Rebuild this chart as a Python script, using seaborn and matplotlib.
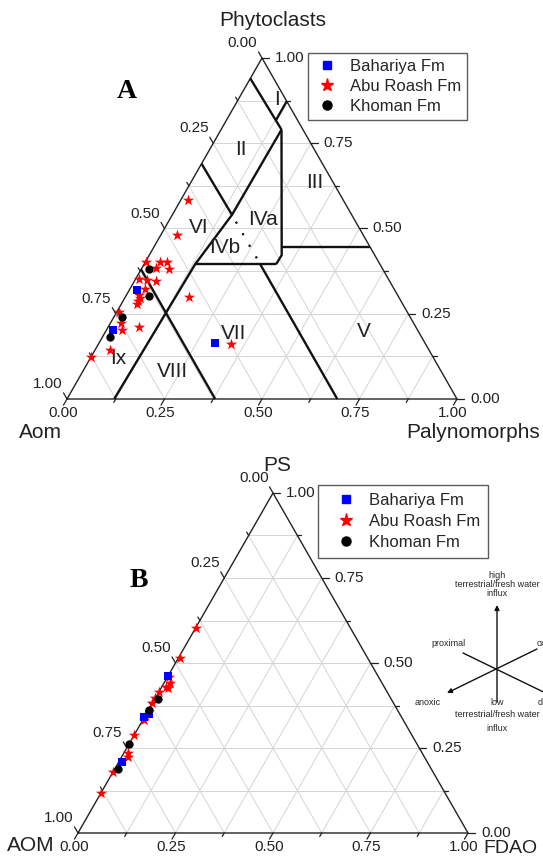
import numpy as np
import pandas as pd
import matplotlib
matplotlib.use("Agg")
import matplotlib.pyplot as plt
from matplotlib.lines import Line2D
import seaborn as sns

sns.set_theme(style="white")
plt.rcParams['font.family'] = ['Liberation Sans', 'DejaVu Sans']

# ---------------- data (fractions) ----------------
formations = ["Bahariya Fm", "Abu Roash Fm", "Khoman Fm"]

# Panel A : Aom - Phytoclasts - Palynomorphs
a_bah_phyto = [0.321, 0.202, 0.163]
a_bah_paly = [0.020, 0.018, 0.297]
a_abu_phyto = [0.584, 0.481, 0.403, 0.403, 0.403, 0.383, 0.381, 0.351, 0.350, 0.345, 0.322, 0.305,
               0.296, 0.287, 0.279, 0.300, 0.255, 0.223, 0.202, 0.212, 0.144, 0.122, 0.161]
a_abu_paly = [0.018, 0.042, 0.000, 0.038, 0.055, 0.036, 0.071, 0.010, 0.030, 0.055, 0.038, 0.031,
              0.038, 0.038, 0.040, 0.162, 0.005, 0.028, 0.040, 0.079, 0.038, 0.000, 0.341]
a_kho_phyto = [0.381, 0.301, 0.241, 0.182]
a_kho_paly = [0.020, 0.060, 0.020, 0.019]

# Panel B : AOM - PS - FDAO
b_bah_ps = [0.461, 0.350, 0.341, 0.209]
b_bah_fdao = [0.000, 0.008, 0.000, 0.008]
b_abu_ps = [0.604, 0.514, 0.460, 0.441, 0.426, 0.430, 0.416, 0.397, 0.382, 0.344, 0.332, 0.288,
            0.235, 0.224, 0.180, 0.119]
b_abu_fdao = [0.000, 0.005, 0.003, 0.015, 0.018, 0.011, 0.000, 0.000, 0.000, 0.000, 0.002, 0.000,
              0.010, 0.016, 0.000, 0.000]
b_kho_ps = [0.393, 0.362, 0.261, 0.187]
b_kho_fdao = [0.008, 0.000, 0.000, 0.010]

tick_values = [k / 8 for k in range(9)]

# Tyson APP field boundaries (phytoclasts, palynomorphs)
app_lines = [
    [(0.94, 0.0), (0.79, 0.155)],
    [(0.818, 0.127), (0.873, 0.127)],
    [(0.69, 0.0), (0.54, 0.153)],
    [(0.79, 0.155), (0.54, 0.153), (0.395, 0.131), (0.0, 0.121)],
    [(0.79, 0.155), (0.422, 0.3395), (0.395, 0.3385)],
    [(0.395, 0.3385), (0.395, 0.131)],
    [(0.447, 0.327), (0.447, 0.553)],
    [(0.395, 0.298), (0.0, 0.693)],
    [(0.38, 0.0), (0.0, 0.38)],
]
app_dotted = [(0.52, 0.173), (0.41, 0.283)]
field_labels = ["I", "II", "III", "IVa", "IVb", "VI", "V", "VII", "VIII", "Ix"]
field_phyto = [0.877, 0.732, 0.634, 0.525, 0.443, 0.502, 0.198, 0.193, 0.08, 0.119]
field_paly = [0.099, 0.079, 0.319, 0.241, 0.184, 0.086, 0.661, 0.331, 0.23, 0.071]

H = np.sqrt(3) / 2
PX = 1 / 390.0


def cart(top, right):
    top = np.asarray(top, float)
    right = np.asarray(right, float)
    return right + top / 2, top * H


def line(ax, pts, **kw):
    t = [p[0] for p in pts]
    r = [p[1] for p in pts]
    x, y = cart(t, r)
    ax.plot(x, y, clip_on=False, **kw)


def frame(ax, tsize=11):
    ax.set_xlim(0, 1)
    ax.set_ylim(0, H)
    ax.axis("off")
    for k in range(1, 8):
        v = k / 8
        kw = dict(color="#d4d4d4", lw=0.7, zorder=1)
        line(ax, [(v, 0), (v, 1 - v)], **kw)
        line(ax, [(0, v), (1 - v, v)], **kw)
        line(ax, [(1 - v, 0), (0, 1 - v)], **kw)
    line(ax, [(0, 0), (0, 1), (1, 0), (0, 0)], color="#222222", lw=1.0, zorder=3)
    for k, v in enumerate(tick_values):
        L = 7 * PX if k % 2 == 0 else 4 * PX
        x0, y0 = cart(1 - v, 0)
        ax.plot([x0, x0 - 0.5 * L], [y0, y0 + H * L], color="#222222", lw=0.9, clip_on=False)
        x1, y1 = cart(v, 1 - v)
        ax.plot([x1, x1 + L], [y1, y1], color="#222222", lw=0.9, clip_on=False)
        x2, y2 = cart(0, v)
        ax.plot([x2, x2 - 0.5 * L], [y2, y2 - H * L], color="#222222", lw=0.9, clip_on=False)
        if k % 2 == 0:
            lab = f"{v:.2f}"
            ax.text(x0 - 0.5 * 9 * PX, y0 + H * 9 * PX, lab, ha="right", va="bottom",
                    fontsize=tsize, color="#222222")
            ax.text(x1 + 13 * PX, y1, lab, ha="left", va="center", fontsize=tsize, color="#222222")
            ax.text(x2 - 0.5 * 8 * PX, y2 - H * 8 * PX, lab, ha="center", va="top",
                    fontsize=tsize, color="#222222")


def points(ax, top_b, right_b, top_a, right_a, top_k, right_k):
    x, y = cart(top_a, right_a)
    sns.scatterplot(x=x, y=y, ax=ax, marker="*", color="#ff0000", s=72, linewidth=0,
                    zorder=5, clip_on=False)
    x, y = cart(top_b, right_b)
    sns.scatterplot(x=x, y=y, ax=ax, marker="s", color="#0000ff", s=30, linewidth=0,
                    zorder=6, clip_on=False)
    x, y = cart(top_k, right_k)
    sns.scatterplot(x=x, y=y, ax=ax, marker="o", color="#000000", s=36, linewidth=0,
                    zorder=7, clip_on=False)


def legend(ax, anchor, hl, htp, bp, ls):
    handles = [
        Line2D([], [], ls="none", marker="s", color="#0000ff", markersize=6),
        Line2D([], [], ls="none", marker="*", color="#ff0000", markersize=9.5),
        Line2D([], [], ls="none", marker="o", color="#000000", markersize=6.5),
    ]
    leg = ax.legend(handles, formations, loc="upper left", bbox_to_anchor=anchor,
                    bbox_transform=fig.transFigure, frameon=True, fancybox=False,
                    fontsize=12, handlelength=hl, handletextpad=htp, borderpad=bp,
                    labelspacing=ls, borderaxespad=0)
    leg.get_frame().set_edgecolor("#333333")
    leg.get_frame().set_linewidth(1.0)


W, HP = 543, 863
fig = plt.figure(figsize=(W / 100, HP / 100), dpi=100)

# ---------------- Panel A ----------------
axA = fig.add_axes([67 / W, (HP - 399) / HP, 390 / W, 341 / HP])
frame(axA)
for pts in app_lines:
    line(axA, pts, color="#111111", lw=1.7, zorder=4, solid_capstyle="butt")
line(axA, app_dotted, color="#111111", lw=1.6, ls=(0, (1, 5)), zorder=4)
fx, fy = cart(field_phyto, field_paly)
for lab, x, y in zip(field_labels, fx, fy):
    axA.text(x, y, lab, ha="center", va="center", fontsize=15, color="#222222", zorder=4)
points(axA, a_bah_phyto, a_bah_paly, a_abu_phyto, a_abu_paly, a_kho_phyto, a_kho_paly)
axA.text(0.528, 0.962, "Phytoclasts", ha="center", va="center", fontsize=15, color="#222222")
axA.text(-0.067, -0.086, "Aom", ha="center", va="center", fontsize=15, color="#222222")
axA.text(1.041, -0.086, "Palynomorphs", ha="center", va="center", fontsize=15, color="#222222")
axA.text(0.154, 0.780, "A", ha="center", va="center", fontsize=20, fontweight="bold",
         family="Liberation Serif", color="black")
legend(axA, (308 / W, 1 - 53 / HP), 1.56, 0.6, 0.36, 0.3)

# ---------------- Panel B ----------------
axB = fig.add_axes([78 / W, (HP - 833) / HP, 390 / W, 340 / HP])
frame(axB)
points(axB, b_bah_ps, b_bah_fdao, b_abu_ps, b_abu_fdao, b_kho_ps, b_kho_fdao)
axB.text(0.510, 0.935, "PS", ha="center", va="center", fontsize=15, color="#222222")
axB.text(-0.121, -0.031, "AOM", ha="center", va="center", fontsize=15, color="#222222")
axB.text(1.108, -0.039, "FDAO", ha="center", va="center", fontsize=14, color="#222222")
axB.text(0.156, 0.644, "B", ha="center", va="center", fontsize=20, fontweight="bold",
         family="Liberation Serif", color="black")
legend(axB, (318 / W, 1 - 485 / HP), 2.4, 0.18, 0.48, 0.36)

# ---------------- environment sketch ----------------
axD = fig.add_axes([0, 0, 1, 1], facecolor="none")
axD.set_xlim(0, W)
axD.set_ylim(HP, 0)
axD.axis("off")
ak = dict(arrowstyle="-|>", color="#111111", lw=1.0, mutation_scale=7, shrinkA=0, shrinkB=0)
axD.annotate("", xy=(497, 605), xytext=(497, 702), arrowprops=ak)
axD.annotate("", xy=(447, 693), xytext=(537, 649), arrowprops=ak)
axD.plot([463, 560], [653, 700], color="#111111", lw=1.0)
fs = 6.5
axD.text(497, 575, "high", ha="center", va="center", fontsize=fs)
axD.text(497, 584, "terrestrial/fresh water", ha="center", va="center", fontsize=fs)
axD.text(497, 593, "influx", ha="center", va="center", fontsize=fs)
axD.text(448, 643, "proximal", ha="center", va="center", fontsize=fs)
axD.text(537, 643, "oxic", ha="left", va="center", fontsize=fs)
axD.text(428, 702, "anoxic", ha="center", va="center", fontsize=fs)
axD.text(497, 702, "low", ha="center", va="center", fontsize=fs)
axD.text(538, 702, "distal", ha="left", va="center", fontsize=fs)
axD.text(497, 714, "terrestrial/fresh water", ha="center", va="center", fontsize=fs)
axD.text(497, 728, "influx", ha="center", va="center", fontsize=fs)

fig.savefig("out.png", dpi=100)
